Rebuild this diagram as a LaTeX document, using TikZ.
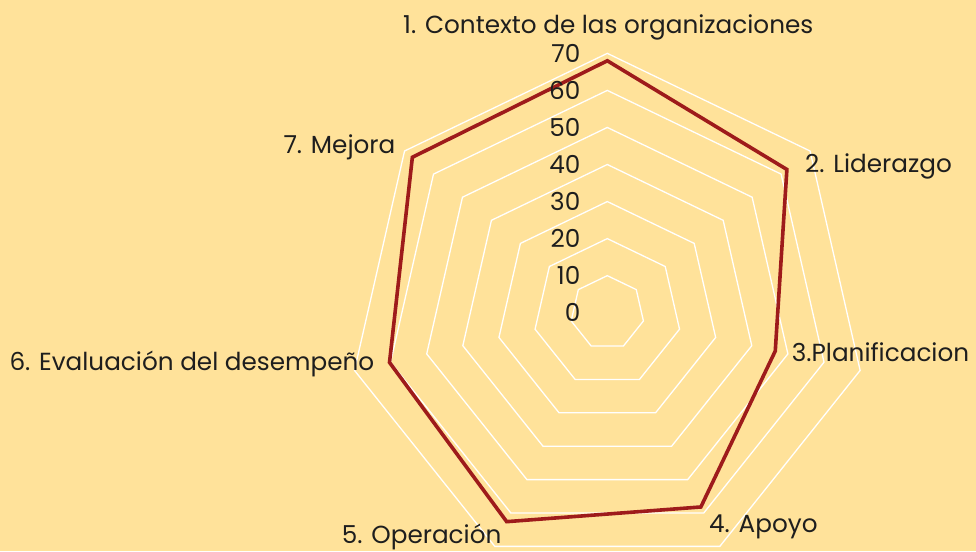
\documentclass[tikz,border=0pt]{standalone}
\usepackage{fontspec}
\setmainfont{Poppins}
\definecolor{bg}{HTML}{FFE29A}
\definecolor{dred}{HTML}{9E1B1B}
\definecolor{txt}{HTML}{1E1E1E}
\tikzset{
  lbl/.style={font=\fontsize{24.7}{29}\selectfont, text=txt, inner sep=0pt},
  num/.style={font=\fontsize{24.7}{29}\selectfont, text=txt, inner sep=0pt, anchor=east},
  gridline/.style={draw=white, line width=1.3pt, line join=miter},
  dataline/.style={draw=dred, line width=3.6pt, line join=miter}
}
\begin{document}
\begin{tikzpicture}[x=1pt,y=-1pt]
\fill[bg] (0,0) rectangle (976,551);
\useasboundingbox (0,0) rectangle (976,551);
\begin{scope}[shift={(607.3,312.7)}]
  \foreach \v in {10,20,...,70} {
    \draw[gridline] (-90:\v*3.705) \foreach \k in {1,...,6} { -- (-90+\k*51.42857:\v*3.705) } -- cycle;
  }
  \draw[dataline] (-90:68*3.705)
    -- (-90+1*51.42857:62*3.705)
    -- (-90+2*51.42857:46.5*3.705)
    -- (-90+3*51.42857:58.2*3.705)
    -- (-90+4*51.42857:62.6*3.705)
    -- (-90+5*51.42857:60.3*3.705)
    -- (-90+6*51.42857:67.3*3.705) -- cycle;
\end{scope}
\foreach \v [count=\i] in {0,10,...,70} {
  \node[num] (n\i) at (580.5, 312.7-\v*3.705) {\v};
}
\node[lbl, anchor=base west] (a1) at (403,33.3) {1. Contexto de las organizaciones};
\node[lbl, anchor=base west] (a2) at (805,172.3) {2. Liderazgo};
\node[lbl, anchor=base west] (a3) at (791.7,361.7) {3.Planificacion};
\node[lbl, anchor=base west] (a4) at (709,532.3) {4. Apoyo};
\node[lbl, anchor=base west] (a5) at (341.7,543.3) {5. Operación};
\node[lbl, anchor=base west] (a6) at (9.3,370) {6. Evaluación del desempeño};
\node[lbl, anchor=base west] (a7) at (283.3,153.3) {7. Mejora};
\end{tikzpicture}
\end{document}
